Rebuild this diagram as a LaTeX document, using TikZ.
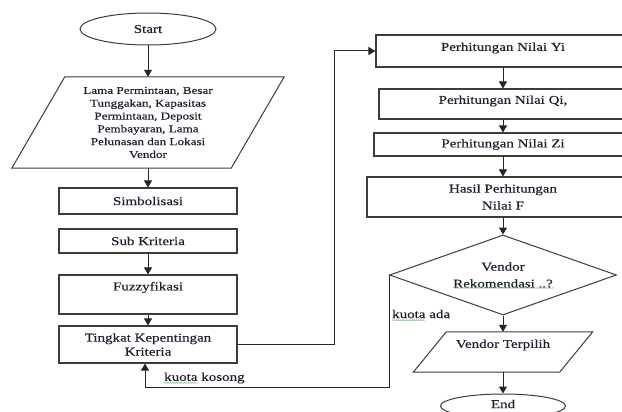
\documentclass[tikz,border=0pt]{standalone}
\usepackage{fontspec}
\setmainfont{Liberation Serif}[FakeStretch=1.25,FakeBold=0.3]
\usetikzlibrary{arrows.meta,shapes.geometric,decorations.pathmorphing}
\definecolor{txtc}{RGB}{30,30,48}
\definecolor{linec}{RGB}{60,60,60}
\definecolor{squigc}{RGB}{120,200,120}
\begin{document}
\begin{tikzpicture}[x=1pt,y=-1pt,
  every node/.style={text=txtc, font=\fontsize{12}{14}\selectfont, inner sep=0pt},
  box/.style={draw=linec, line width=1.1pt, rectangle, align=center},
  term/.style={draw=linec, line width=1pt, ellipse},
  plainbox/.style={rectangle, align=center},
  arr/.style={draw=black!85, line width=1pt, -{Triangle[length=7pt,width=8pt]}},
  shapeline/.style={draw=linec, line width=1pt},
  squig/.style={draw=squigc, line width=0.5pt, decorate, decoration={snake,amplitude=0.5pt,segment length=2pt}},
  lbl/.style={anchor=west}
]
\useasboundingbox (0,0) rectangle (622,412);
\fill[white] (0,0) rectangle (622,412);
\clip (0,0) rectangle (622,412);

% left column
\node[term, minimum width=136pt, minimum height=32pt] (start) at (148,29) {Start};
\node[plainbox, minimum width=219pt, minimum height=91pt, font=\fontsize{10.5}{12.8}\selectfont] (inp) at (148,122.5)
  {Lama Permintaan, Besar\\Tunggakan, Kapasitas\\Permintaan, Deposit\\Pembayaran, Lama\\Pelunasan dan Lokasi\\Vendor};
\draw[shapeline] ([xshift=26.5pt]inp.north west) -- ([xshift=26.5pt]inp.north east)
  -- ([xshift=-26.5pt]inp.south east) -- ([xshift=-26.5pt]inp.south west) -- cycle;
\node[box, minimum width=178pt, minimum height=26pt] (simb) at (148,201) {Simbolisasi};
\node[box, minimum width=178pt, minimum height=24pt] (sub) at (148,241) {Sub Kriteria};
\node[box, minimum width=178pt, minimum height=39pt] (fuz) at (148,294.5) {\raisebox{7pt}[\height][\depth]{Fuzzyfikasi}};
\node[box, minimum width=178pt, minimum height=37pt] (ting) at (148,344.5) {Tingkat Kepentingan\\Kriteria};

% right column
\node[box, minimum width=254pt, minimum height=32pt] (yi) at (503,51) {\raisebox{3pt}[\height][\depth]{Perhitungan Nilai Yi}};
\node[box, minimum width=248pt, minimum height=30pt] (qi) at (503,104) {\raisebox{3pt}[\height][\depth]{Perhitungan Nilai Qi,}};
\node[box, minimum width=258pt, minimum height=23pt] (zi) at (503,144.5) {Perhitungan Nilai Zi};
\node[box, minimum width=272pt, minimum height=40pt, font=\fontsize{12}{17}\selectfont] (hasil) at (503,197) {Hasil Perhitungan\\Nilai F};
\node[diamond, draw=linec, line width=1pt, minimum width=227pt, minimum height=80pt, shape aspect=2.84,
  align=center, font=\fontsize{12}{17}\selectfont] (dec) at (503,275) {Vendor\\Rekomendasi ..?};
\node[plainbox, minimum width=146pt, minimum height=40pt] (vt) at (503,352) {\raisebox{7pt}[\height][\depth]{Vendor Terpilih}};
\draw[shapeline] ([xshift=16.5pt]vt.north west) -- ([xshift=16.5pt]vt.north east)
  -- ([xshift=-16.5pt]vt.south east) -- ([xshift=-16.5pt]vt.south west) -- cycle;
\node[term, minimum width=125pt, minimum height=24pt] (end) at (503,406) {\raisebox{2pt}[\height][\depth]{End}};

% connectors
\draw[arr] (start) -- (inp);
\draw[arr] (inp) -- (simb);
\draw[arr] (sub) -- (fuz);
\draw[arr] (fuz) -- (ting);
\draw[arr] (yi) -- (qi);
\draw[arr] (qi) -- (zi);
\draw[arr] (zi) -- (hasil);
\draw[arr] (hasil) -- (dec);
\draw[arr] (dec) -- (vt);
\draw[arr] (vt) -- (end);
\draw[arr] (ting.east) -- ++(97,0) |- (yi.west);
\coordinate (lp) at (145,387);
\draw[arr] (dec.west) |- (lp) -- (lp |- ting.south);

% labels
\node[lbl] (ka) at (392,314) {kuota ada};
\node[lbl] (kk) at (164,378) {kuota kosong};
\draw[squig] ([yshift=-2pt]ka.base west) -- ++(33,0);
\draw[squig] ([yshift=-2pt]kk.base west) -- ++(33,0);
\draw[squig] (454,288) -- (554,288);
\end{tikzpicture}
\end{document}
